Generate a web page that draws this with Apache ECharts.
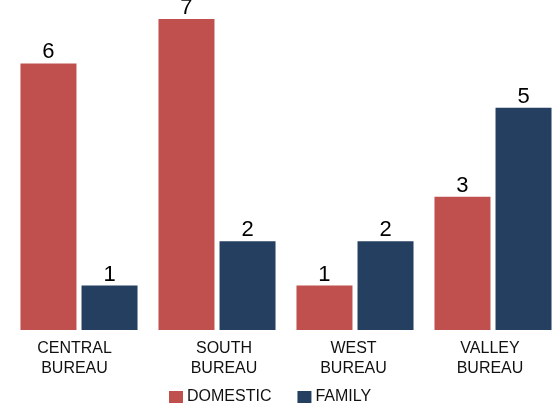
<!DOCTYPE html>
<html>
<head>
<meta charset="utf-8">
<script src="https://cdn.jsdelivr.net/npm/echarts@6/dist/echarts.min.js"></script>
<style>
html,body{margin:0;padding:0;background:#fff;overflow:hidden;}
#chart{width:563px;height:408px;}
</style>
</head>
<body>
<div id="chart"></div>
<script>
const categories = ['CENTRAL\nBUREAU', 'SOUTH\nBUREAU', 'WEST\nBUREAU', 'VALLEY\nBUREAU'];
const domesticValues = [6, 7, 1, 3];
const familyValues = [1, 2, 2, 5];
const seriesNames = ['DOMESTIC', 'FAMILY'];

const FONT = '"Liberation Sans", Arial, sans-serif';
const chart = echarts.init(document.getElementById('chart'), null, {renderer: 'canvas'});
const labelCfg = {
  show: true, position: 'top', distance: 0,
  fontSize: 22, color: '#000', fontFamily: FONT
};
const catRich = {
  c0: {fontSize: 16, lineHeight: 20, color: '#111', fontFamily: FONT, padding: [0, 9, 0, 0]},
  c1: {fontSize: 16, lineHeight: 20, color: '#111', fontFamily: FONT, padding: [0, 0, 0, 14]},
  c2: {fontSize: 16, lineHeight: 20, color: '#111', fontFamily: FONT, padding: [0, 3, 0, 0]},
  c3: {fontSize: 16, lineHeight: 20, color: '#111', fontFamily: FONT, padding: [0, 6, 0, 0]}
};
chart.setOption({
  animation: false,
  backgroundColor: '#fff',
  grid: {left: 10, top: 19, width: 552, height: 311, containLabel: false},
  legend: {
    data: seriesNames,
    left: 169, top: 389, padding: 0,
    icon: 'rect', itemWidth: 14, itemHeight: 12, itemGap: 26,
    textStyle: {fontSize: 16, color: '#111', fontFamily: FONT, padding: [0, 0, 0, -1]}
  },
  xAxis: {
    type: 'category',
    data: categories,
    axisLine: {show: false},
    axisTick: {show: false},
    axisLabel: {
      fontSize: 16, lineHeight: 20, margin: 9, color: '#111', fontFamily: FONT, interval: 0,
      formatter: (v, i) => v.split('\n').map(l => '{c' + i + '|' + l + '}').join('\n'),
      rich: catRich
    }
  },
  yAxis: {
    type: 'value', min: 0, max: 7,
    show: false,
    splitLine: {show: false}
  },
  series: [
    {name: seriesNames[0], type: 'bar', data: domesticValues, barWidth: 56, barGap: '9%',
     itemStyle: {color: '#C0504D'}, label: labelCfg},
    {name: seriesNames[1], type: 'bar', data: familyValues, barWidth: 56, barGap: '9%',
     itemStyle: {color: '#243F60'}, label: labelCfg}
  ]
});
</script>
</body>
</html>
